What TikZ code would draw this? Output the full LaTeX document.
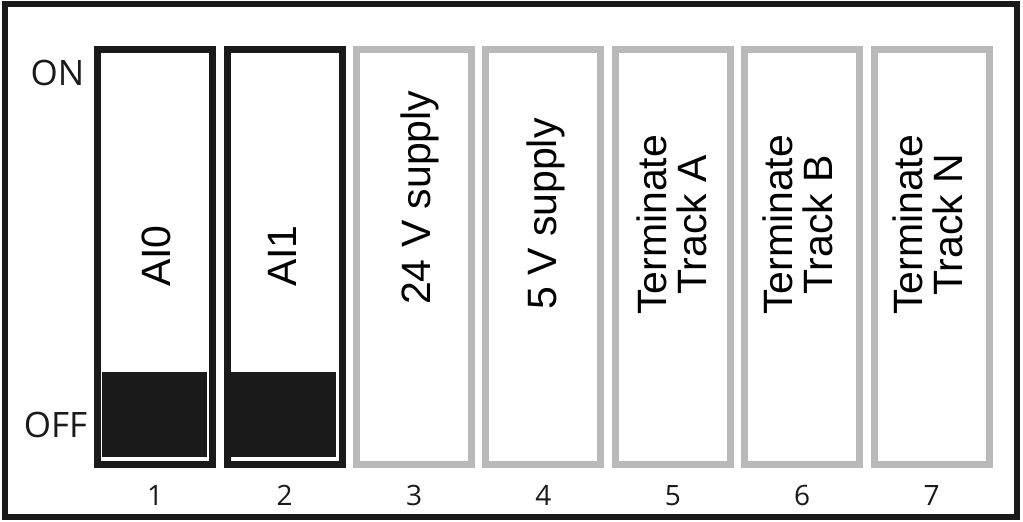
\documentclass[tikz,border=0pt]{standalone}
\usepackage{fontspec}
\setmainfont{Liberation Sans}
\newfontfamily\sidefont{Open Sans}
\definecolor{ink}{HTML}{1A1A1A}
\definecolor{swgray}{HTML}{B9B9B9}
\begin{document}
\begin{tikzpicture}[x=1pt,y=-1pt,
  frame/.style={rectangle, draw=ink, line width=6pt, minimum width=1012pt, minimum height=512.7pt, inner sep=0pt, outer sep=0pt},
  swbox/.style={rectangle, draw=#1, line width=7pt, minimum width=115pt, minimum height=415.5pt, inner sep=0pt, outer sep=0pt},
  knob/.style={rectangle, fill=ink, minimum width=105pt, minimum height=85pt, inner sep=0pt, outer sep=0pt},
  swlabel/.style={rotate=90, inner sep=0pt, font=\fontsize{41}{40}\selectfont},
  sidelabel/.style={inner sep=0pt, anchor=base, font=\sidefont\fontsize{35}{40}\selectfont, text=ink},
  numlabel/.style={inner sep=0pt, anchor=base, font=\sidefont\fontsize{28}{32}\selectfont, text=ink}]
\useasboundingbox (0,0) rectangle (1023,522);
\fill[white] (0,0) rectangle (1023,522);
\node[frame] (frame) at (510.5,260.15) {};

\node[swbox=ink]    (s1) at (155.2,256.75) {};
\node[swbox=ink]    (s2) at (284.6,256.75) {};
\node[swbox=swgray] (s3) at (414.0,256.75) {};
\node[swbox=swgray] (s4) at (543.4,256.75) {};
\node[swbox=swgray] (s5) at (672.8,256.75) {};
\node[swbox=swgray] (s6) at (802.2,256.75) {};
\node[swbox=swgray] (s7) at (931.6,256.75) {};

\node[knob] (k1) at (154.2,414.2) {};
\node[knob] (k2) at (283.85,414.2) {};

\node[swlabel, anchor=base west] (l1) at (170,287) {AI0};
\node[swlabel, anchor=base west] (l2) at (296,287) {AI1};
\node[swlabel, anchor=base west] (l3) at (430,305) {24 V supply};
\node[swlabel, anchor=base west] (l4) at (556.7,310) {5 V supply};
\node[swlabel, align=center] (l5) at (671.7,224.9) {Terminate\\Track A};
\node[swlabel, align=center] (l6) at (798,224.9) {Terminate\\Track B};
\node[swlabel, align=center] (l7) at (928,224.9) {Terminate\\Track N};

\node[sidelabel] (on)  at (57.5,85) {ON};
\node[sidelabel] (off) at (55.5,437.3) {OFF};

\node[numlabel] (n1) at (155.2,505) {1};
\node[numlabel] (n2) at (284.6,505) {2};
\node[numlabel] (n3) at (414.0,505) {3};
\node[numlabel] (n4) at (543.4,505) {4};
\node[numlabel] (n5) at (672.8,505) {5};
\node[numlabel] (n6) at (802.2,505) {6};
\node[numlabel] (n7) at (931.6,505) {7};
\end{tikzpicture}
\end{document}
